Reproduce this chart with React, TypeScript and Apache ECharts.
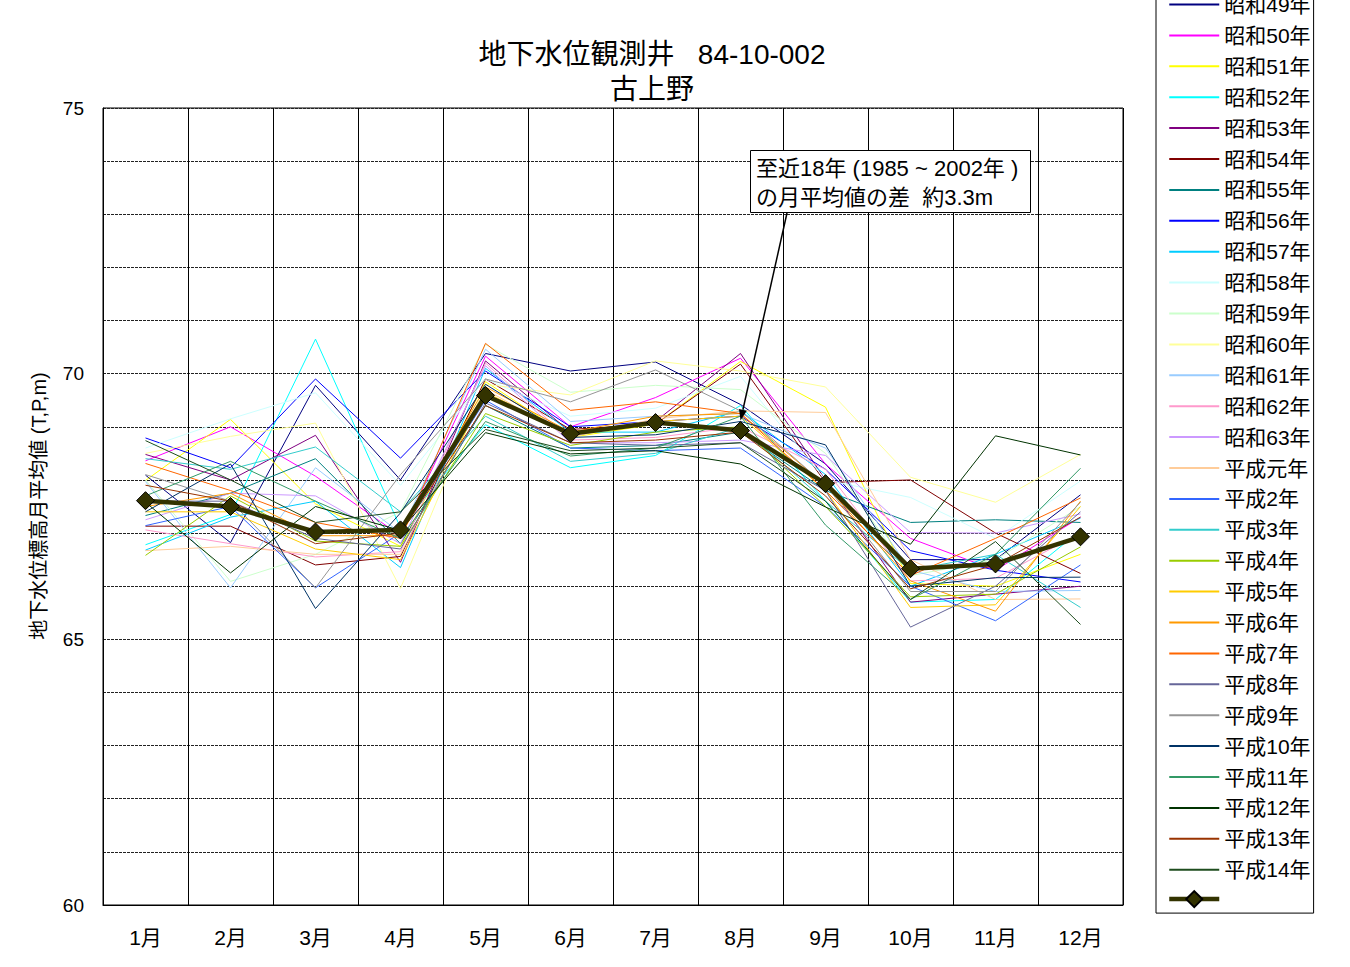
import React, { useEffect, useRef } from "react";
import * as echarts from "echarts";

const months = ["1月", "2月", "3月", "4月", "5月", "6月", "7月", "8月", "9月", "10月", "11月", "12月"];
const yTicks = [60, 65, 70, 75];

const yearNames = [
  "昭和49年", "昭和50年", "昭和51年", "昭和52年", "昭和53年", "昭和54年", "昭和55年",
  "昭和56年", "昭和57年", "昭和58年", "昭和59年", "昭和60年", "昭和61年", "昭和62年",
  "昭和63年", "平成元年", "平成2年", "平成3年", "平成4年", "平成5年", "平成6年",
  "平成7年", "平成8年", "平成9年", "平成10年", "平成11年", "平成12年", "平成13年", "平成14年",
];
const yearColors = [
  "#000080", "#FF00FF", "#FFFF00", "#00FFFF", "#800080", "#800000", "#008080",
  "#0000FF", "#00CCFF", "#CCFFFF", "#CCFFCC", "#FFFF99", "#99CCFF", "#FF99CC",
  "#CC99FF", "#FFCC99", "#3366FF", "#33CCCC", "#99CC00", "#FFCC00", "#FF9900",
  "#FF6600", "#666699", "#969696", "#003366", "#339966", "#003300", "#993300", "#1E4D1E",
];

const s49 = [68.09, 66.82, 69.78, 68.0, 70.38, 70.05, 70.22, 69.42, 68.3, 66.5, 66.5, 67.72];
const s50 = [68.36, 69.0, 68.07, 66.95, 70.33, 69.0, 69.55, 70.29, 68.3, 66.9, 66.3, 67.3];
const s51 = [67.99, 69.14, 67.55, 66.75, 69.85, 68.8, 69.05, 70.23, 69.37, 66.05, 66.0, 66.6];
const s52 = [66.78, 67.35, 70.65, 67.1, 69.04, 68.23, 68.46, 69.4, 67.6, 65.7, 65.75, 67.05];
const s53 = [68.48, 68.0, 68.84, 66.45, 70.24, 68.9, 69.1, 70.38, 68.0, 65.7, 65.85, 66.0];
const s54 = [67.13, 67.13, 66.4, 66.56, 69.9, 68.95, 69.05, 70.18, 67.95, 68.0, 67.0, 66.24];
const s55 = [67.33, 67.75, 68.4, 66.8, 69.4, 68.6, 68.65, 68.9, 67.8, 67.2, 67.25, 67.2];
const s56 = [68.79, 68.23, 69.9, 68.41, 70.05, 69.0, 69.1, 69.2, 68.2, 66.67, 66.3, 66.08];
const s57 = [66.68, 67.3, 67.6, 66.35, 70.1, 68.9, 68.9, 69.3, 68.1, 66.0, 66.6, 67.28];
const s58 = [68.6, 69.15, 69.64, 67.9, 69.9, 69.2, 69.35, 69.95, 68.0, 67.67, 66.9, 67.98];
const s59 = [68.0, 66.09, 66.6, 67.4, 70.55, 69.65, 69.78, 69.7, 68.5, 66.2, 66.5, 67.5];
const s60 = [68.5, 68.82, 69.07, 65.96, 69.8, 69.6, 70.24, 70.05, 69.75, 68.05, 67.58, 68.48];
const s61 = [67.97, 65.97, 68.23, 67.0, 70.46, 69.1, 69.2, 69.25, 68.6, 66.3, 65.9, 65.92];
const s62 = [67.06, 66.8, 66.55, 66.65, 70.2, 68.75, 68.8, 69.0, 68.2, 66.1, 66.15, 67.0];
const s63 = [67.25, 67.75, 67.7, 66.8, 70.15, 68.7, 68.7, 68.75, 68.46, 67.01, 67.0, 67.36];
const h01 = [66.67, 66.75, 66.6, 66.6, 69.7, 68.8, 69.15, 69.3, 69.27, 66.5, 65.75, 65.76];
const h02 = [67.14, 67.5, 65.97, 67.0, 69.5, 68.6, 68.55, 68.6, 67.5, 66.0, 65.35, 66.4];
const h03 = [68.4, 68.2, 68.62, 67.4, 69.2, 68.35, 68.5, 69.0, 67.6, 66.3, 66.6, 65.6];
const h04 = [66.58, 67.7, 66.85, 66.75, 69.25, 68.65, 68.9, 69.0, 67.5, 65.8, 65.85, 66.74];
const h05 = [67.4, 67.4, 66.7, 66.5, 69.65, 68.85, 69.1, 69.2, 67.8, 65.6, 65.65, 67.5];
const h06 = [67.5, 67.75, 66.95, 66.95, 69.75, 68.9, 69.2, 69.25, 67.9, 66.1, 65.53, 67.6];
const h07 = [68.31, 67.8, 67.2, 66.9, 70.57, 69.31, 69.47, 69.25, 67.8, 66.2, 66.9, 67.66];
const h08 = [67.6, 67.6, 66.9, 66.7, 69.45, 68.7, 68.65, 68.7, 67.8, 65.23, 66.0, 67.4];
const h09 = [68.1, 67.6, 65.97, 68.1, 69.9, 69.47, 70.07, 69.3, 67.9, 65.9, 65.9, 67.58];
const h10 = [67.4, 68.3, 65.58, 67.38, 69.8, 68.8, 68.85, 69.1, 68.66, 66.0, 66.16, 66.17];
const h11 = [67.7, 68.35, 67.6, 66.9, 69.1, 68.45, 68.6, 69.2, 67.15, 65.75, 66.6, 68.22];
const h12 = [67.58, 66.25, 67.5, 67.05, 68.89, 68.49, 68.55, 68.3, 67.49, 66.79, 68.83, 68.47];
const h13 = [67.9, 67.6, 66.8, 67.0, 69.4, 68.7, 68.75, 68.9, 67.7, 65.95, 66.4, 67.3];
const h14 = [68.74, 68.0, 67.2, 67.4, 68.95, 68.55, 68.6, 68.7, 67.6, 65.75, 66.84, 65.28];

const avgName = "月平均値";
const avgValues = [67.61, 67.5, 67.02, 67.06, 69.59, 68.87, 69.08, 68.93, 67.93, 66.33, 66.42, 66.93];

const yearData = [
  s49, s50, s51, s52, s53, s54, s55, s56, s57, s58, s59, s60, s61, s62, s63,
  h01, h02, h03, h04, h05, h06, h07, h08, h09, h10, h11, h12, h13, h14,
];

const titleLines = ["地下水位観測井   84-10-002", "古上野"];
const yAxisName = "地下水位標高月平均値 (T,P,m)";
const noteLines = ["至近18年 (1985 ~ 2002年 )", "の月平均値の差  約3.3m"];

const FONT = "'Liberation Sans', Arial, 'Noto Sans CJK JP', sans-serif";

export default function App() {
  const ref = useRef<HTMLDivElement>(null);

  useEffect(() => {
    if (!ref.current) return;
    const chart = echarts.init(ref.current, null, { renderer: "svg" });

    const yearSeries = yearNames.map((name, i) => ({
      name,
      type: "line",
      data: yearData[i],
      symbol: "none",
      lineStyle: { width: 1, color: yearColors[i] },
      itemStyle: { color: yearColors[i] },
      z: 2,
    }));

    const legendData = [
      ...yearNames.map((name) => ({ name, itemStyle: { opacity: 0 } })),
      { name: avgName, lineStyle: { width: 4.5 } },
    ];

    const option: any = {
      animation: false,
      backgroundColor: "#ffffff",
      textStyle: { fontFamily: FONT },
      grid: {
        left: 103,
        top: 108,
        width: 1020,
        height: 797,
        show: true,
        borderColor: "#000",
        borderWidth: 1,
        backgroundColor: "transparent",
      },
      xAxis: {
        type: "category",
        data: months,
        boundaryGap: true,
        axisLine: { show: true, lineStyle: { color: "#000", width: 1 } },
        axisTick: { show: false },
        axisLabel: { color: "#000", fontSize: 21, margin: 22, fontFamily: FONT },
        splitLine: { show: true, lineStyle: { color: "#000", width: 1 } },
      },
      yAxis: {
        type: "value",
        min: 60,
        max: 75,
        interval: 1,
        axisLine: { show: true, lineStyle: { color: "#000", width: 1 } },
        axisTick: { show: false },
        axisLabel: {
          color: "#000",
          fontSize: 19,
          margin: 19,
          fontFamily: FONT,
          formatter: (v: number) => (yTicks.includes(v) ? String(v) : ""),
        },
        splitLine: { show: true, lineStyle: { color: "#222", width: 1, type: [3, 1] } },
      },
      legend: {
        orient: "vertical",
        left: 1156,
        top: -10,
        padding: [4, 3, 5, 11],
        itemWidth: 50,
        itemHeight: 20,
        itemGap: 9.9,
        borderColor: "#000",
        borderWidth: 1,
        backgroundColor: "#fff",
        textStyle: { color: "#000", fontSize: 21, lineHeight: 21, fontFamily: FONT },
        formatter: (name: string) => (name === avgName ? "" : name),
        data: legendData,
      },
      series: [
        ...yearSeries,
        {
          name: avgName,
          type: "line",
          data: avgValues,
          symbol: "diamond",
          symbolSize: 18,
          lineStyle: { width: 4.5, color: "#333300" },
          itemStyle: { color: "#333300", borderColor: "#000", borderWidth: 1 },
          z: 5,
        },
      ],
    };
    chart.setOption(option);

    const tip = chart.convertToPixel({ gridIndex: 0 }, [months[7], avgValues[7]]) as number[];
    const tipX = tip[0];
    const tipY = tip[1] - 10;
    const startX = 787;
    const startY = 213;
    const ang = Math.atan2(tipY - startY, tipX - startX);
    const ah = 11;
    const aw = 4;
    const bx = tipX - ah * Math.cos(ang);
    const by = tipY - ah * Math.sin(ang);
    const px = -Math.sin(ang) * aw;
    const py = Math.cos(ang) * aw;

    chart.setOption({
      graphic: [
        {
          type: "text",
          x: 652,
          y: 54,
          style: {
            text: titleLines[0],
            fontSize: 28,
            fill: "#000",
            align: "center",
            verticalAlign: "middle",
            fontFamily: FONT,
          },
        },
        {
          type: "text",
          x: 652,
          y: 89,
          style: {
            text: titleLines[1],
            fontSize: 28,
            fill: "#000",
            align: "center",
            verticalAlign: "middle",
            fontFamily: FONT,
          },
        },
        {
          type: "text",
          x: 39,
          y: 506,
          rotation: Math.PI / 2,
          style: {
            text: yAxisName,
            fontSize: 20,
            fill: "#000",
            align: "center",
            verticalAlign: "middle",
            fontFamily: FONT,
          },
        },
        {
          type: "rect",
          shape: { x: 750.5, y: 150.5, width: 280, height: 62 },
          style: { fill: "#fff", stroke: "#000", lineWidth: 1 },
          z: 10,
        },
        {
          type: "text",
          x: 756,
          y: 168,
          z: 11,
          style: { text: noteLines[0], fontSize: 22, fill: "#000", verticalAlign: "middle", fontFamily: FONT },
        },
        {
          type: "text",
          x: 756,
          y: 197,
          z: 11,
          style: { text: noteLines[1], fontSize: 22, fill: "#000", verticalAlign: "middle", fontFamily: FONT },
        },
        {
          type: "line",
          shape: { x1: startX, y1: startY, x2: bx, y2: by },
          style: { stroke: "#000", lineWidth: 1.5 },
          z: 10,
        },
        {
          type: "polygon",
          shape: { points: [[tipX, tipY], [bx + px, by + py], [bx - px, by - py]] },
          style: { fill: "#000" },
          z: 10,
        },
      ],
    });

    return () => chart.dispose();
  }, []);

  return (
    <div
      ref={ref}
      style={{ position: "fixed", left: 0, top: 0, width: 1350, height: 967, background: "#fff" }}
    />
  );
}
